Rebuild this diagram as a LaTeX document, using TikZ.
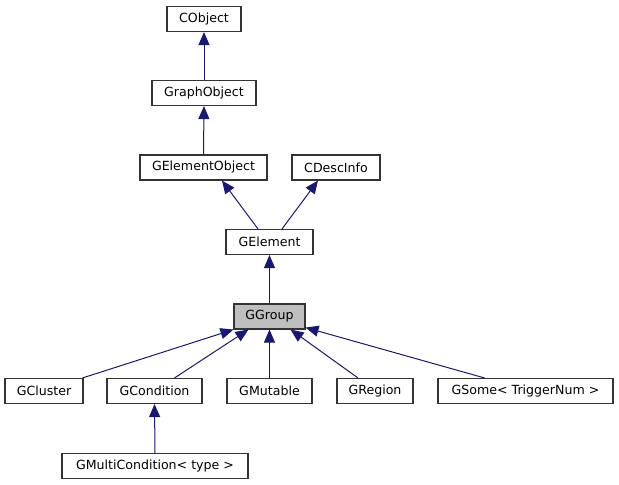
\documentclass[tikz,border=0pt]{standalone}
\usepackage{fontspec}
\setmainfont{DejaVu Sans}
\usetikzlibrary{arrows.meta,calc}
\definecolor{edgeblue}{HTML}{191970}
\definecolor{focusfill}{HTML}{BFBFBF}
\begin{document}
\begin{tikzpicture}[x=1pt,y=-1pt,
  cls/.style={draw=black!80, line width=1.1pt, fill=white, rectangle,
    minimum height=25pt, inner sep=0pt,
    font=\fontsize{12.6}{15}\selectfont},
  focus/.style={cls, fill=focusfill},
  inherit/.style={draw=edgeblue, line width=1pt,
    -{Triangle[length=13pt,width=11pt]}}]
% canvas
\fill[white] (0,0) rectangle (619,485);
\useasboundingbox (0,0) rectangle (619,485);
% classes
\node[cls, minimum width=74pt]  (CObject)   at (204,19)    {CObject};
\node[cls, minimum width=104pt] (GraphObject) at (204,93)  {GraphObject};
\node[cls, minimum width=127pt] (GElementObject) at (203.5,167.5) {GElementObject};
\node[cls, minimum width=88pt]  (CDescInfo) at (336,167.5) {CDescInfo};
\node[cls, minimum width=87pt]  (GElement)  at (269.5,242) {GElement};
\node[focus, minimum width=71pt] (GGroup)   at (269.5,316.5) {GGroup};
\node[cls, minimum width=78pt]  (GCluster)  at (44,391)    {GCluster};
\node[cls, minimum width=95pt]  (GCondition) at (154.5,391) {GCondition};
\node[cls, minimum width=85pt]  (GMutable)  at (269.5,391) {GMutable};
\node[cls, minimum width=76pt]  (GRegion)   at (375,391)   {GRegion};
\node[cls, minimum width=175pt] (GSome)     at (525.5,391) {GSome< TriggerNum >};
\node[cls, minimum width=186pt] (GMulti)    at (155,466)   {GMultiCondition< type >};
% inheritance edges (child -> base)
\draw[inherit] (GraphObject.north) -- (CObject.south);
\draw[inherit] (GElementObject.north) -- (GraphObject.south);
\draw[inherit] ($(GElement.north)+(-11.5,0)$) -- ($(GElementObject.south)+(18.5,0)$);
\draw[inherit] ($(GElement.north)+(12.5,0)$) -- ($(CDescInfo.south)+(-18,0)$);
\draw[inherit] (GGroup.north) -- (GElement.south);
\draw[inherit] ($(GCluster.north east)+(-1,0)$) -- (GGroup.south west);
\draw[inherit] ($(GCondition.north)+(20,0)$) -- ($(GGroup.south west)+(15,0)$);
\draw[inherit] (GMutable.north) -- (GGroup.south);
\draw[inherit] ($(GRegion.north)+(-17,0)$) -- ($(GGroup.south east)+(-15,0)$);
\draw[inherit] ($(GSome.north)+(-41,0)$) -- ($(GGroup.south east)+(0,-2)$);
\draw[inherit] (GMulti.north) -- (GCondition.south);
\end{tikzpicture}
\end{document}
